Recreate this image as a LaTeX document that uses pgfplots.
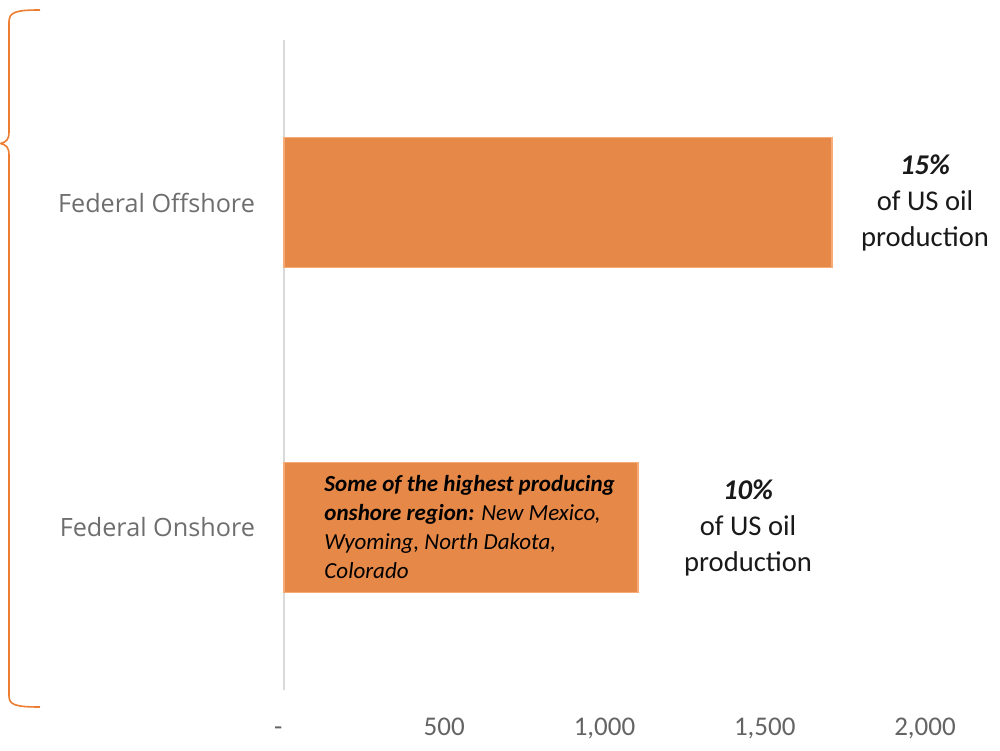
\documentclass[border=0pt]{standalone}
\usepackage{pgfplots}
\pgfplotsset{compat=1.18}
\usepackage{fontspec}
\setmainfont{Carlito}
\newfontfamily\catfont{Open Sans}
\definecolor{barfill}{RGB}{230,137,72}
\definecolor{baredge}{RGB}{247,172,120}
\definecolor{braceor}{RGB}{237,125,49}
\definecolor{axgray}{RGB}{217,217,217}
\definecolor{tickgray}{RGB}{100,100,100}
\definecolor{catgray}{RGB}{110,110,110}
\begin{document}
\begin{tikzpicture}
\path[use as bounding box] (0,0) rectangle (500pt,375pt);
% left brace
\draw[braceor, line width=0.8pt]
  (20pt,370pt) .. controls (8pt,370pt) and (4.5pt,369pt) .. (4.5pt,364pt)
  -- (4.5pt,309pt) .. controls (4.5pt,305pt) and (3pt,304pt) .. (0.3pt,303.25pt)
  .. controls (3pt,302.5pt) and (4.5pt,301.5pt) .. (4.5pt,297.5pt)
  -- (4.5pt,27pt) .. controls (4.5pt,22.5pt) and (8pt,21.5pt) .. (20pt,21.5pt);
\begin{axis}[
  at={(142pt,30pt)}, anchor=south west,
  scale only axis, width=320.5pt, height=325pt,
  xmin=0, xmax=2000, ymin=-0.5, ymax=1.5,
  axis lines=left,
  axis line style={-},
  x axis line style={draw=none},
  y axis line style={draw=axgray, line width=0.8pt},
  major tick length=0pt,
  xtick={0,500,1000,1500,2000},
  xticklabels={{\makebox[10pt][l]{-}},500,{1,000},{1,500},{2,000}},
  ytick={0,1},
  yticklabels={Federal Onshore, Federal Offshore},
  xticklabel style={anchor=base, yshift=-22.5pt, font=\fontsize{13.5}{15}\selectfont, text=tickgray},
  yticklabel style={anchor=east, xshift=-11pt, font=\catfont\fontsize{12.6}{14}\selectfont, text=catgray},
  clip=false,
  xbar, bar width=65pt,
]
\addplot[fill=barfill, draw=baredge, line width=0.8pt] coordinates {(1710,1) (1104,0)};
\node[align=center, font=\fontsize{14.3}{18}\selectfont, text=black!90] at (axis cs:2000,1)
  {\textbf{\textit{15\%}}\\of US oil\\production};
\node[align=center, font=\fontsize{14.3}{18}\selectfont, text=black!90] at (axis cs:1448,0)
  {\textbf{\textit{10\%}}\\of US oil\\production};
\node[anchor=west, align=left, inner sep=0pt, font=\fontsize{11.5}{14.5}\selectfont, text=black] at (axis cs:125,0.0)
  {\textbf{\textit{Some of the highest producing}}\\\textbf{\textit{onshore region:}} \textit{New Mexico,}\\\textit{Wyoming, North Dakota,}\\\textit{Colorado}};
\end{axis}
\end{tikzpicture}
\end{document}
